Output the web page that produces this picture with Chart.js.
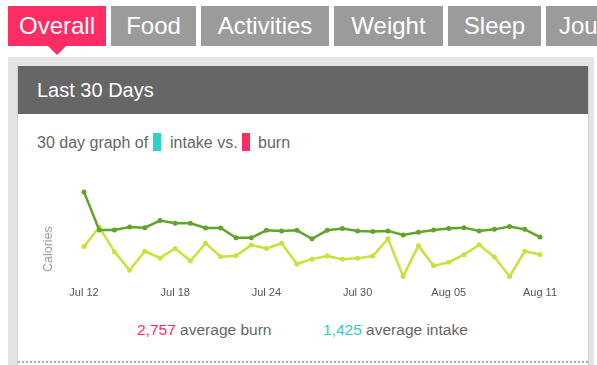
<!DOCTYPE html>
<html lang="en">
<head>
  <meta charset="UTF-8">
  <title>Last 30 Days</title>
  <script src="https://cdn.jsdelivr.net/npm/chart.js"></script>
  <style>
    body { margin: 0; width: 597px; height: 365px; overflow: hidden; background: #fff;
           font-family: "Liberation Sans", Arial, sans-serif; position: relative; }
    .tab { position: absolute; top: 6px; height: 40px; line-height: 40px; background: #9b9b9b;
           color: #fff; font-size: 24px; text-align: center; white-space: nowrap; overflow: hidden; }
    .tab.active { background: #fe2d63; }
    .arrow { position: absolute; left: 48px; top: 46px; width: 0; height: 0;
             border-left: 9px solid transparent; border-right: 9px solid transparent; border-top: 9px solid #fe2d63; }
    .panel { position: absolute; left: 8px; top: 57px; width: 586px; height: 320px; background: #e2e3e2; }
    .card { position: absolute; left: 17px; top: 66px; width: 570px; height: 310px; background: #fff;
            border-left: 1px solid #cfcfcf; border-right: 1px solid #cfcfcf; }
    .head { position: absolute; left: 18px; top: 66px; width: 570px; height: 48px; background: #666;
            color: #fff; font-size: 20px; line-height: 48px; }
    .head span { position: absolute; left: 19px; }
    .legend { position: absolute; left: 37px; top: 134px; font-size: 16px; line-height: 18px; color: #666; white-space: nowrap; }
    .sw { position: absolute; top: 133px; width: 8px; height: 18px; }
    .summary { position: absolute; top: 321px; font-size: 15.5px; line-height: 18px; color: #666; white-space: nowrap; }
    .dots { position: absolute; left: 18px; top: 361px; width: 570px; border-top: 2px dotted #aaa; }
    .ytitle { position: absolute; left: 48px; top: 249px; font-size: 12.5px; line-height: 14px; color: #999;
              white-space: nowrap; transform: translate(-50%, -50%) rotate(-90deg); }
    #wrap { position: absolute; left: 34px; top: 170px; width: 530px; height: 135px; }
  </style>
</head>
<body>
  <div class="tab active" style="left:8px;width:98px">Overall</div>
  <div class="arrow"></div>
  <div class="tab" style="left:111px;width:85px">Food</div>
  <div class="tab" style="left:201px;width:128px">Activities</div>
  <div class="tab" style="left:334px;width:109px">Weight</div>
  <div class="tab" style="left:448px;width:93px">Sleep</div>
  <div class="tab" style="left:546px;width:80px;text-align:left;padding-left:13px">Journal</div>

  <div class="panel"></div>
  <div class="card"></div>
  <div class="head"><span>Last 30 Days</span></div>

  <div class="legend">30 day graph of</div>
  <div class="sw" style="left:153px;background:#2fcfcc"></div>
  <div class="legend" style="left:170px">intake vs.</div>
  <div class="sw" style="left:242px;background:#fe2d63"></div>
  <div class="legend" style="left:258px">burn</div>

  <div id="wrap"><canvas id="calChart"></canvas></div>
  <div class="ytitle">Calories</div>

  <div class="summary" style="left:137px"><span style="color:#fe2d63">2,757</span> average burn</div>
  <div class="summary" style="left:323px"><span style="color:#35c9c6">1,425</span> average intake</div>
  <div class="dots"></div>

  <script>
    // one entry per day, Jul 12 .. Aug 11
    const days = ['Jul 12', 'Jul 13', 'Jul 14', 'Jul 15', 'Jul 16', 'Jul 17', 'Jul 18', 'Jul 19',
      'Jul 20', 'Jul 21', 'Jul 22', 'Jul 23', 'Jul 24', 'Jul 25', 'Jul 26', 'Jul 27', 'Jul 28',
      'Jul 29', 'Jul 30', 'Jul 31', 'Aug 01', 'Aug 02', 'Aug 03', 'Aug 04', 'Aug 05', 'Aug 06',
      'Aug 07', 'Aug 08', 'Aug 09', 'Aug 10', 'Aug 11'];
    const tickLabels = ['Jul 12', 'Jul 18', 'Jul 24', 'Jul 30', 'Aug 05', 'Aug 11'];

    const burn = [4680, 2700, 2700, 2850, 2820, 3190, 3050, 3050, 2800, 2800, 2290,
      2290, 2680, 2650, 2680, 2240, 2680, 2780, 2650, 2620, 2650, 2440, 2580, 2700,
      2770, 2820, 2650, 2730, 2880, 2730, 2330];
    const intake = [1840, 2850, 1570, 600, 1590, 1240, 1740, 1080, 2010, 1310, 1360,
      1910, 1740, 2010, 930, 1180, 1340, 1180, 1220, 1340, 2240, 280, 1880, 830,
      1020, 1410, 1930, 1290, 280, 1590, 1420];

    const ctx = document.getElementById('calChart').getContext('2d');
    const calChart = new Chart(ctx, {
      type: 'line',
      data: {
        labels: days,
        datasets: [{
          label: 'Burn',
          data: burn,
          borderColor: '#62a42b',
          backgroundColor: '#62a42b',
          borderWidth: 2.5,
          pointRadius: 2.5,
          pointBorderWidth: 0,
          tension: 0,
          fill: false
        }, {
          label: 'Intake',
          data: intake,
          borderColor: '#c8e23c',
          backgroundColor: '#c8e23c',
          borderWidth: 2.5,
          pointRadius: 2.5,
          pointBorderWidth: 0,
          tension: 0,
          fill: false
        }]
      },
      options: {
        responsive: true,
        maintainAspectRatio: false,
        animation: false,
        layout: { padding: { top: 10, right: 24, bottom: 0, left: 50 } },
        plugins: { legend: { display: false }, tooltip: { enabled: false } },
        scales: {
          x: {
            offset: false,
            grid: { display: false, drawTicks: false },
            border: { display: false },
            ticks: {
              autoSkip: false,
              maxRotation: 0,
              padding: 5,
              color: '#555',
              font: { family: 'Liberation Sans', size: 11 },
              callback: function (value) {
                const lab = this.getLabelForValue(value);
                return tickLabels.includes(lab) ? lab : null;
              }
            }
          },
          y: {
            display: false,
            min: 0,
            max: 5300
          }
        }
      }
    });
  </script>
</body>
</html>
